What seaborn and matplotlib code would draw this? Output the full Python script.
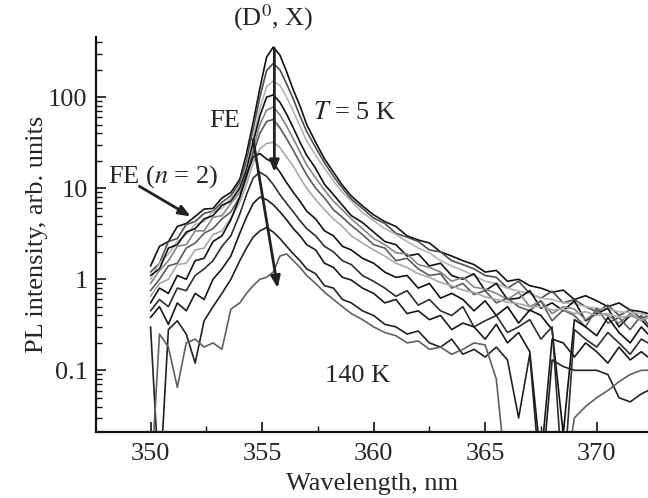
import numpy as np
import pandas as pd
import matplotlib
matplotlib.use("Agg")
import matplotlib.pyplot as plt
import seaborn as sns
from matplotlib.ticker import MultipleLocator, FixedLocator, LogLocator, FuncFormatter, NullFormatter

# ==========================================================
# Data (5 K ... 140 K)
# ==========================================================

wl = [350.0, 350.4, 350.8, 351.2, 351.6, 352.0, 352.4, 352.8, 353.2, 353.6,
      354.0, 354.3, 354.6, 354.9, 355.2, 355.5, 355.8, 356.1, 356.4, 356.7,
      357.0, 357.4, 357.8, 358.2, 358.6, 359.0, 359.5, 360.0, 360.5, 361.0,
      361.5, 362.0, 362.5, 363.0, 363.5, 364.0, 364.5, 365.0, 365.5, 366.0,
      366.5, 367.0, 367.5, 368.0, 368.5, 369.0, 369.5, 370.0, 370.5, 371.0,
      371.5, 372.0, 372.3]

temps = ["5 K", "10 K", "20 K", "30 K", "40 K", "50 K",
         "60 K", "70 K", "80 K", "100 K", "120 K", "140 K"]

pl_5 = [1.4, 2.3, 2.6, 3.8, 4.1, 4.9, 5.9, 6.0, 7.8, 9.0,
        12.5, 24, 53, 125, 275, 355, 290, 190, 120, 80,
        50, 32, 21, 15, 10.8, 8.2, 6.4, 5.1, 4.3, 3.8,
        3.0, 2.7, 2.5, 2.0, 1.8, 1.6, 1.45, 1.2, 1.25, 0.95,
        1.0, 0.85, 0.8, 0.72, 0.76, 0.6, 0.66, 0.58, 0.5, 0.55,
        0.46, 0.44, 0.42]
pl_10 = [1.2, 1.5, 2.6, 2.8, 4.0, 4.3, 5.3, 5.6, 7.0, 8.3,
         11.5, 20, 45, 100, 195, 235, 200, 140, 95, 62,
         42, 28, 19, 13.5, 10, 7.6, 6.0, 4.7, 4.1, 3.2,
         2.9, 2.6, 2.1, 2.0, 1.6, 1.45, 1.3, 1.1, 1.05, 0.8,
         0.95, 0.7, 0.62, 0.74, 0.55, 0.6, 0.5, 0.44, 0.52, 0.4,
         0.46, 0.37, 0.4]
pl_20 = [1.0, 1.5, 1.9, 2.6, 3.1, 4.0, 4.3, 5.5, 6.0, 7.8,
         10.5, 17, 36, 75, 130, 150, 135, 100, 70, 48,
         33, 23, 16.5, 12, 9, 7.2, 5.4, 4.4, 3.6, 3.1,
         2.6, 2.2, 1.95, 1.6, 1.4, 1.25, 1.1, 0.95, 0.9, 0.8,
         0.74, 0.7, 0.62, 0.6, 0.55, 0.54, 0.5, 0.48, 0.47, 0.44,
         0.43, 0.42, 0.4]
pl_30 = [1.1, 1.3, 2.2, 2.4, 3.3, 3.6, 4.6, 5.0, 6.5, 7.2,
         10, 16, 32, 62, 100, 106, 88, 65, 46, 32,
         23, 16.5, 11, 8.5, 6.5, 5.0, 4.2, 3.3, 2.6, 2.4,
         1.8, 1.9, 1.4, 1.5, 1.1, 1.0, 1.15, 0.75, 0.9, 0.6,
         0.62, 0.75, 0.48, 0.55, 0.45, 0.58, 0.35, 0.42, 0.48, 0.3,
         0.4, 0.36, 0.3]
pl_40 = [0.9, 1.25, 1.6, 2.3, 2.4, 3.4, 3.4, 4.8, 5.0, 6.8,
         9, 14, 27, 50, 72, 78, 64, 48, 35, 25,
         18, 13, 9.5, 7.2, 5.8, 4.6, 3.6, 2.8, 2.4, 1.95,
         1.9, 1.45, 1.35, 1.2, 0.95, 1.05, 0.82, 0.78, 0.7, 0.6,
         0.72, 0.5, 0.58, 0.42, 0.5, 0.47, 0.36, 0.44, 0.4, 0.33,
         0.42, 0.35, 0.38]
pl_50 = [0.75, 1.0, 1.4, 1.5, 2.2, 2.5, 3.2, 3.6, 4.6, 5.5,
         8, 13, 24, 40, 54, 57, 46, 35, 26, 19,
         14, 10, 7.8, 5.8, 4.8, 3.9, 3.1, 2.4, 2.2, 1.6,
         1.7, 1.3, 1.1, 1.15, 0.8, 0.9, 0.68, 0.75, 0.55, 0.62,
         0.5, 0.45, 0.58, 0.35, 0.46, 0.4, 0.3, 0.48, 0.33, 0.38,
         0.28, 0.4, 0.32]
pl_60 = [0.65, 0.9, 1.0, 1.45, 1.5, 2.1, 2.2, 3.1, 3.4, 4.7,
         7, 11, 19, 27, 31, 32, 28, 22, 17.5, 13,
         10, 7.5, 5.8, 4.6, 3.8, 3.0, 2.5, 2.1, 1.8, 1.5,
         1.35, 1.15, 1.05, 0.92, 0.85, 0.76, 0.72, 0.64, 0.6, 0.56,
         0.54, 0.5, 0.5, 0.46, 0.47, 0.42, 0.44, 0.4, 0.42, 0.38,
         0.4, 0.36, 0.38]
pl_70 = [0.55, 0.8, 0.7, 1.1, 1.0, 1.6, 1.7, 2.6, 3.0, 4.5,
         8, 14, 22, 24, 21, 19, 15, 11.5, 9, 7.2,
         5.6, 4.6, 3.4, 3.0, 2.3, 2.1, 1.7, 1.5, 1.2, 1.05,
         1.1, 0.8, 0.9, 0.62, 0.7, 0.6, 0.45, 0.58, 0.4, 0.5,
         0.33, 0.46, 0.4, 0.28, 0.02, 0.36, 0.3, 0.24, 0.38, 0.26,
         0.2, 0.3, 0.25]
pl_80 = [0.45, 0.6, 0.5, 0.8, 0.75, 1.1, 1.3, 1.6, 2.3, 3.0,
         5.2, 8.5, 13, 15, 13.5, 11, 8.5, 6.8, 5.5, 4.4,
         3.6, 3.0, 2.3, 2.0, 1.6, 1.45, 1.1, 0.95, 0.8, 0.65,
         0.75, 0.52, 0.6, 0.45, 0.4, 0.5, 0.3, 0.35, 0.4, 0.26,
         0.3, 0.36, 0.22, 0.3, 0.005, 0.28, 0.22, 0.18, 0.26, 0.2,
         0.15, 0.22, 0.2]
pl_100 = [0.38, 0.5, 0.32, 0.55, 0.45, 0.7, 0.6, 1.0, 1.3, 1.8,
          3.2, 4.8, 6.8, 8.0, 7.5, 6.6, 5.5, 4.5, 3.6, 3.0,
          2.4, 2.1, 1.5, 1.35, 1.05, 0.98, 0.8, 0.7, 0.55, 0.6,
          0.42, 0.45, 0.36, 0.4, 0.28, 0.33, 0.3, 0.22, 0.32, 0.2,
          0.26, 0.16, 0.01, 0.22, 0.2, 0.14, 0.2, 0.16, 0.12, 0.18,
          0.13, 0.16, 0.14]
pl_120 = [0.3, 0.005, 0.28, 0.35, 0.25, 0.12, 0.35, 0.5, 0.7, 1.0,
          1.6, 2.2, 2.9, 3.4, 3.7, 3.3, 2.8, 2.3, 1.9, 1.6,
          1.3, 1.15, 0.85, 0.8, 0.6, 0.55, 0.45, 0.4, 0.32, 0.3,
          0.25, 0.27, 0.2, 0.18, 0.22, 0.15, 0.17, 0.14, 0.18, 0.13,
          0.03, 0.15, 0.005, 0.13, 0.11, 0.1, 0.1, 0.1, 0.09, 0.05,
          0.045, 0.055, 0.06]
pl_140 = [0.005, 0.25, 0.18, 0.065, 0.2, 0.22, 0.18, 0.2, 0.17, 0.47,
          0.55, 0.7, 0.85, 1.0, 1.05, 1.2, 1.8, 1.9, 1.6, 1.35,
          1.1, 0.9, 0.72, 0.6, 0.5, 0.42, 0.36, 0.3, 0.26, 0.24,
          0.2, 0.21, 0.17, 0.18, 0.15, 0.17, 0.2, 0.19, 0.08, 0.005,
          0.005, 0.005, 0.005, 0.005, 0.005, 0.03, 0.04, 0.05, 0.06, 0.075,
          0.09, 0.1, 0.1]

spectra = [pl_5, pl_10, pl_20, pl_30, pl_40, pl_50,
           pl_60, pl_70, pl_80, pl_100, pl_120, pl_140]

line_colors = ["#111111", "#4e4e4e", "#b4b4b4", "#111111", "#858585", "#5a5a5a",
               "#a8a8a8", "#111111", "#2e2e2e", "#1a1a1a", "#222222", "#606060"]

# long-form table for seaborn
df = pd.DataFrame({
    "Wavelength": np.tile(wl, len(temps)),
    "PL": np.concatenate(spectra),
    "T": np.repeat(temps, len(wl)),
})

# ==========================================================
# Plot
# ==========================================================

sns.set_style("ticks")
plt.rcParams["font.family"] = ["Liberation Serif", "DejaVu Serif"]
plt.rcParams["mathtext.fontset"] = "stix"

fig = plt.figure(figsize=(6.48, 4.98), dpi=100)
ax = fig.add_axes([0.148, 0.1325, 0.852, 0.7935])
ax.set_yscale("log")

sns.lineplot(
    data=df, x="Wavelength", y="PL", hue="T",
    hue_order=temps, palette=dict(zip(temps, line_colors)),
    estimator=None, sort=False, linewidth=1.2, legend=False, ax=ax
)

ax.set_xlim(347.55, 372.3)
ax.set_ylim(0.021, 460)

ax.xaxis.set_major_locator(MultipleLocator(5))
ax.xaxis.set_minor_locator(MultipleLocator(2.5))
ax.yaxis.set_major_locator(FixedLocator([0.1, 1, 10, 100]))
ax.yaxis.set_major_formatter(FuncFormatter(lambda v, p: f"{v:g}"))
ax.yaxis.set_minor_locator(LogLocator(base=10, subs=np.arange(2, 10)))
ax.yaxis.set_minor_formatter(NullFormatter())

fs = 19
ax.tick_params(which="major", direction="in", length=7, width=1.2,
               labelsize=fs, color="#111111")
ax.tick_params(axis="x", which="major", pad=8)
ax.tick_params(axis="y", which="major", pad=6)
ax.tick_params(which="minor", direction="in", length=4, width=1.0,
               color="#111111")
for side in ["top", "right"]:
    ax.spines[side].set_visible(False)
for side in ["left", "bottom"]:
    ax.spines[side].set_linewidth(1.6)
    ax.spines[side].set_color("#111111")

ax.set_xlabel("Wavelength, nm", fontsize=fs, labelpad=6)
ax.set_ylabel("PL intensity, arb. units", fontsize=fs, labelpad=0)

# annotations
arrow_kw = dict(arrowstyle="-|>,head_length=0.7,head_width=0.28",
                lw=2.0, color="#222222", shrinkA=0, shrinkB=0)
ax.annotate("", xy=(355.55, 15), xytext=(355.55, 345), arrowprops=arrow_kw)
ax.annotate("", xy=(355.7, 0.8), xytext=(354.6, 34), arrowprops=arrow_kw)
ax.annotate("", xy=(351.8, 4.9), xytext=(349.5, 10.5), arrowprops=arrow_kw)

ax.text(355.5, 740, "(D$^0$, X)", fontsize=fs, ha="center", va="center")
ax.text(353.3, 55, "FE", fontsize=fs, ha="center", va="center")
ax.text(357.3, 67, "$T$ = 5 K", fontsize=fs, ha="left", va="center")
ax.text(348.1, 13.5, "FE ($n$ = 2)", fontsize=fs, ha="left", va="center")
ax.text(357.8, 0.086, "140 K", fontsize=fs, ha="left", va="center")

fig.savefig("out.png", dpi=100)
